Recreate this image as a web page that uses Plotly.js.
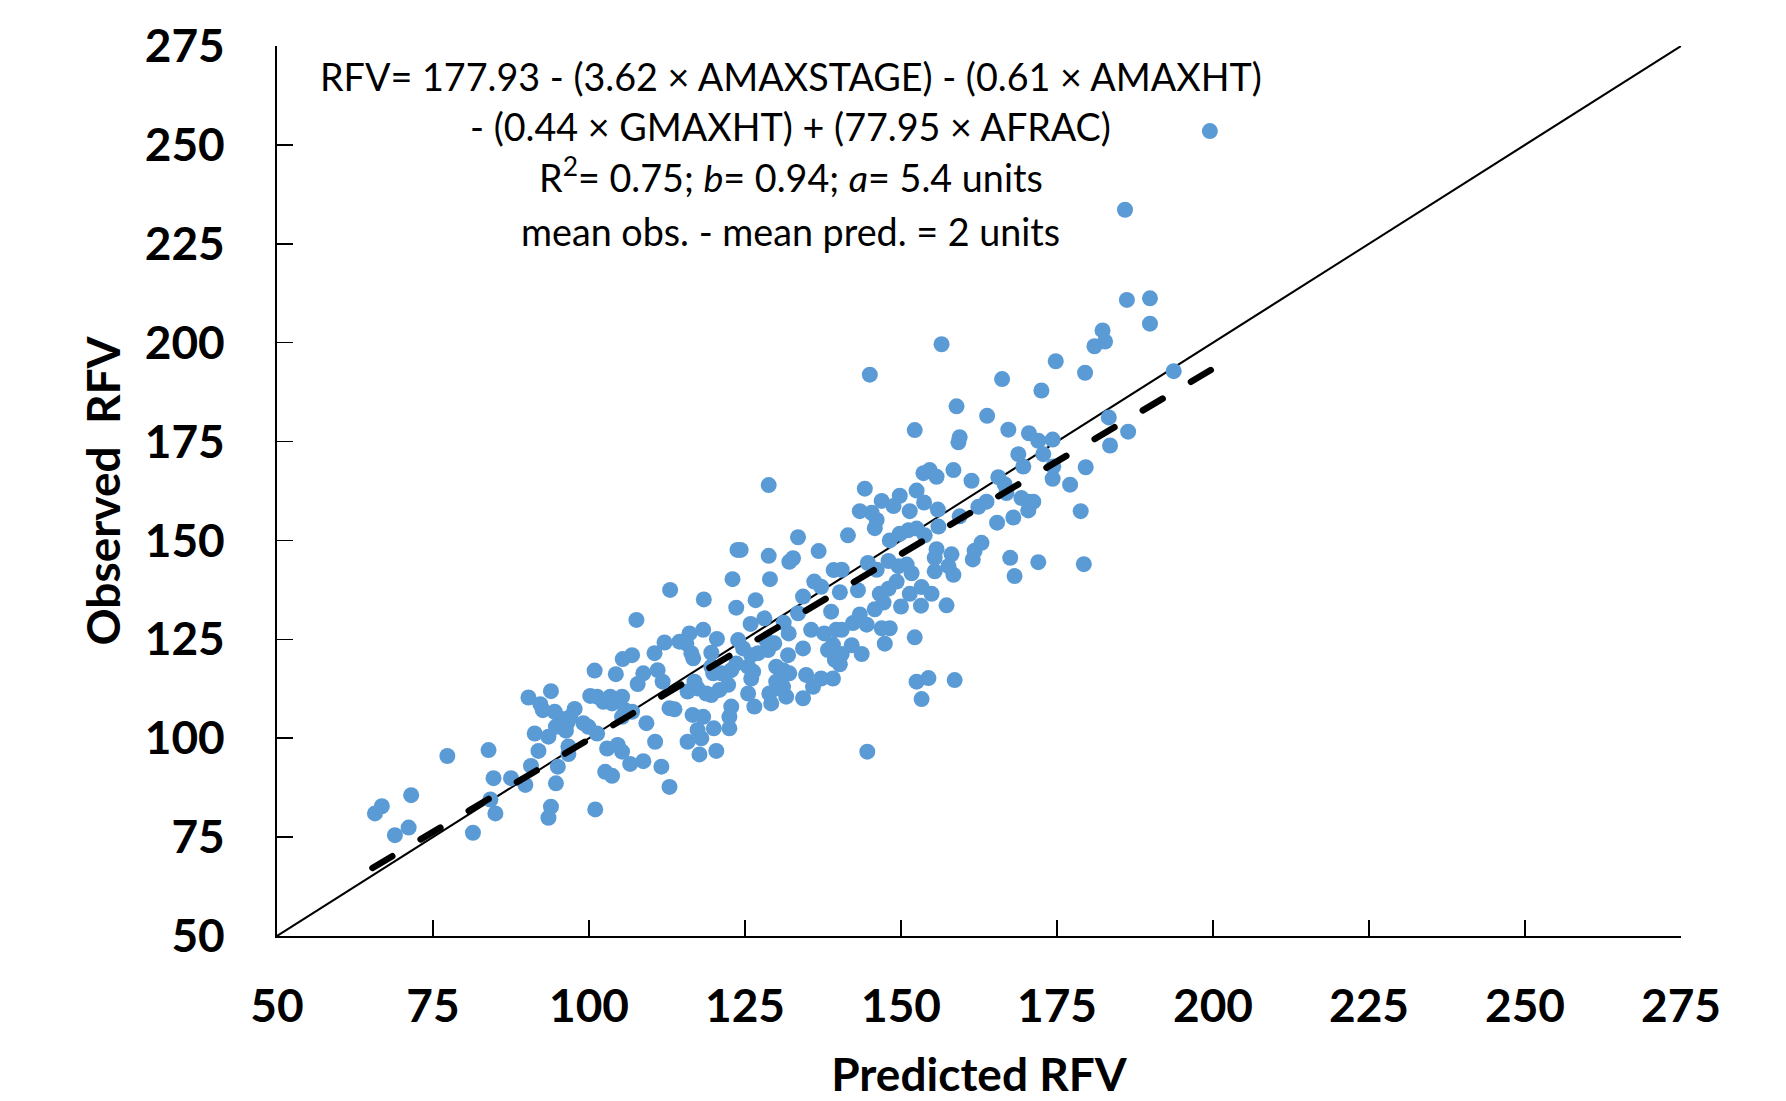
<!DOCTYPE html>
<html>
<head>
<meta charset="utf-8">
<script src="https://cdn.plot.ly/plotly-3.0.1.min.js"></script>
<style>
html,body{margin:0;padding:0;background:#fff;}
#chart{width:1786px;height:1101px;}
.scatterlayer .trace:nth-child(3) .js-line{stroke-linecap:round;}
</style>
</head>
<body>
<div id="chart"></div>
<script>
// Predicted RFV (x) and Observed RFV (y)
const predicted = [
107.6,105.4,106.9,100.9,104.3,108.7,107.8,90.3,92.2,92.6,93.9,94.5,95.4,94.7,96.5,97.0,96.3,93.5,91.3,97.7,99.1,99.9,101.3,100.2,101.3,102.3,103.4,105.3,103.7,105.8,106.9,105.3,109.2,91.9,96.7,96.7,90.7,95.0,102.9,104.6,105.3,106.6,108.7,102.6,103.7,89.8,94.7,87.5,84.7,83.9,77.3,84.2,85.0,93.9,93.5,101.0,71.5,66.8,65.7,71.1,68.9,81.4,
128.8,133.5,123.8,124.3,128.8,136.8,132.1,132.7,123.0,129.0,113.0,118.4,123.6,126.7,139.2,136.1,137.2,134.3,133.5,138.8,128.1,125.9,131.2,132.0,135.6,137.7,139.6,118.3,116.1,114.5,115.6,112.1,116.4,116.7,120.5,119.6,123.9,124.7,126.0,127.1,128.4,129.7,128.7,134.3,131.9,138.3,139.1,139.4,110.5,111.0,111.8,119.6,119.9,121.2,122.8,123.6,125.5,126.3,126.0,130.0,131.1,132.1,130.0,131.1,134.8,135.9,137.2,139.1,116.9,117.4,115.8,118.8,119.6,120.9,122.3,125.5,126.5,128.9,129.2,130.5,131.6,134.3,112.9,113.7,116.6,118.3,122.8,122.5,122.5,110.6,117.4,118.0,115.8,120.0,117.7,120.4,111.6,112.9,
156.5,145.0,158.9,159.2,159.4,152.2,158.4,153.6,154.6,155.7,144.2,146.9,149.8,148.8,152.5,153.7,143.4,145.3,146.1,145.8,151.4,155.9,156.0,159.4,141.5,148.2,149.8,151.2,152.5,153.8,155.7,155.4,158.1,144.7,146.1,140.5,148.0,149.6,150.9,151.7,155.4,157.6,158.4,143.1,140.2,146.6,148.0,149.3,145.8,147.2,151.4,153.3,154.9,150.0,153.2,157.3,143.4,144.5,142.3,140.5,146.9,148.2,147.4,152.2,142.1,143.7,140.5,140.2,152.5,154.4,153.3,158.6,144.6,
199.5,185.9,186.2,189.9,189.9,182.3,182.7,181.0,174.8,179.5,166.2,172.5,193.7,163.8,167.2,170.5,172.0,174.3,183.3,186.4,183.5,168.8,169.6,172.8,174.4,179.6,161.3,165.6,166.6,166.9,174.3,177.1,163.7,162.4,169.3,170.4,171.2,170.4,165.4,168.0,178.8,162.9,161.8,161.5,167.5,172.0,179.3,168.2
];
const observed = [
129.9,120.0,121.0,117.1,116.2,116.4,113.7,110.3,108.6,107.1,111.9,106.7,105.0,102.9,103.8,105.4,101.9,100.4,101.2,107.4,103.8,102.9,101.2,110.7,110.5,109.2,110.5,110.5,108.8,107.1,106.7,105.4,103.8,96.8,97.9,96.0,93.0,92.8,97.4,98.3,96.6,93.5,94.2,91.5,90.5,88.2,88.6,89.9,89.9,97.0,95.5,84.5,81.0,82.7,79.9,82.0,85.6,82.8,81.0,77.4,75.5,76.1,
164.0,150.8,147.6,147.6,146.1,147.3,144.6,145.5,140.2,140.2,137.5,135.1,133.0,134.9,142.5,139.6,138.3,135.8,131.6,132.0,130.3,128.9,129.2,126.5,127.4,126.5,127.4,127.4,126.5,124.4,124.0,124.2,121.5,120.2,125.1,121.6,124.8,122.7,121.0,121.5,124.8,124.0,122.3,122.7,121.0,122.3,123.6,119.8,121.5,117.2,114.3,118.1,116.4,116.4,117.2,118.9,118.1,116.8,115.1,118.1,117.2,116.4,114.3,113.0,116.0,113.0,115.1,115.1,114.3,112.6,111.8,111.3,110.9,112.2,113.5,111.3,108.0,111.3,108.8,112.6,110.5,110.1,107.6,107.3,105.9,105.4,108.0,105.4,102.5,99.1,102.1,100.0,99.1,102.5,95.9,96.8,92.8,87.7,
199.6,191.9,183.9,174.8,176.1,177.9,167.8,167.0,167.8,166.1,163.1,160.0,161.3,158.7,162.6,159.6,157.4,157.0,155.2,153.1,157.4,157.8,153.5,156.1,151.3,150.0,151.7,152.6,153.0,151.3,147.8,145.6,146.5,144.3,142.6,142.6,144.8,143.5,143.9,141.7,142.2,143.5,141.3,137.4,136.9,136.5,137.8,139.6,132.6,134.3,136.5,138.2,136.5,133.3,133.5,133.6,131.3,128.7,129.1,127.4,127.8,127.8,123.9,125.5,123.5,121.3,121.3,118.7,114.3,115.2,109.9,114.7,96.6,
253.5,233.6,210.8,211.2,204.8,203.1,200.3,199.1,195.3,192.4,190.8,187.9,192.8,181.5,178.0,177.1,175.2,175.5,181.1,177.5,174.0,171.8,168.7,171.8,168.7,168.5,165.1,166.0,164.2,162.0,165.6,164.1,159.8,158.5,160.7,159.8,159.8,157.6,154.5,155.8,157.4,149.4,147.4,145.2,145.6,144.5,144.0,141.0
];
// 1:1 line and fitted regression line end points
const oneToOneX = [50, 275];
const oneToOneY = [50, 275];
const fitX = [65.3, 200.2];
const fitY = [67.2, 193.6];
// axis ticks
const tickVals = [50, 75, 100, 125, 150, 175, 200, 225, 250, 275];
const tickText = ['50','75','100','125','150','175','200','225','250','275'];
// equation text lines
const noteLines = [
  'RFV= 177.93 - (3.62 \u00d7 AMAXSTAGE) - (0.61 \u00d7 AMAXHT)',
  '- (0.44 \u00d7 GMAXHT) + (77.95 \u00d7 AFRAC)',
  'R<sup>2</sup>= 0.75; <i>b</i>= 0.94; <i>a</i>= 5.4 units',
  'mean obs. - mean pred. = 2 units'
];
const noteY = [267.3, 254.6, 242.3, 228.2];
const noteX = 132.3;

const FONT = 'Lato, "Open Sans", "DejaVu Sans", sans-serif';

const traces = [
  {x: oneToOneX, y: oneToOneY, mode: 'lines', type: 'scatter',
   line: {color: '#000', width: 2}, hoverinfo: 'skip', showlegend: false},
  {x: predicted, y: observed, mode: 'markers', type: 'scatter',
   marker: {color: '#5B9BD5', size: 16, line: {width: 0}}, showlegend: false},
  {x: fitX, y: fitY, mode: 'lines', type: 'scatter',
   line: {color: '#000', width: 6.5, dash: '23px,33px'}, hoverinfo: 'skip', showlegend: false}
];

const axisCommon = {
  range: [50, 275], tickvals: tickVals, ticktext: tickText,
  showgrid: false, zeroline: false, showline: true, linecolor: '#000', linewidth: 2,
  ticks: 'inside', ticklen: 16, tickwidth: 1.5, tickcolor: '#000',
  tickfont: {family: FONT, size: 46, color: '#000', weight: 700},
  automargin: false
};

const layout = {
  width: 1786, height: 1101,
  margin: {l: 277, r: 105, t: 46, b: 165},
  paper_bgcolor: '#fff', plot_bgcolor: '#fff',
  xaxis: Object.assign({}, axisCommon, {
    ticklabelstandoff: 29,
    title: {text: 'Predicted RFV', font: {family: FONT, size: 46, color: '#000', weight: 700}, standoff: 46}
  }),
  yaxis: Object.assign({}, axisCommon, {
    ticklabelstandoff: 41,
    title: {text: 'Observed\u00a0 RFV', font: {family: FONT, size: 46, color: '#000', weight: 700}, standoff: 10}
  }),
  annotations: noteLines.map((t, i) => ({
    x: noteX, y: noteY[i], xref: 'x', yref: 'y', text: t, showarrow: false,
    xanchor: 'center', yanchor: 'middle',
    font: {family: FONT, size: 37.7, color: '#000'}
  }))
};

Plotly.newPlot('chart', traces, layout, {staticPlot: true, displayModeBar: false});
</script>
</body>
</html>
